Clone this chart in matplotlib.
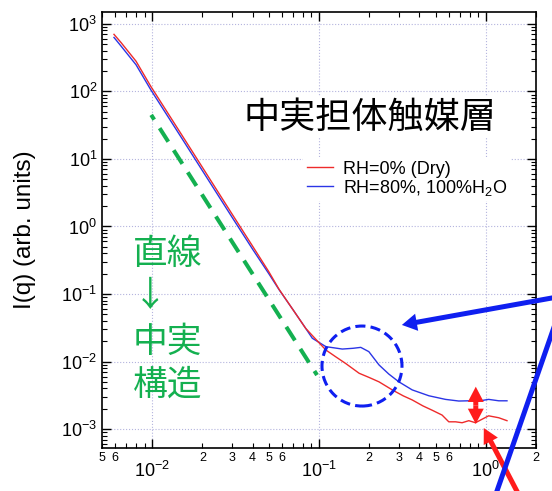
import numpy as np
import matplotlib
matplotlib.use("Agg")
import matplotlib.pyplot as plt
from matplotlib.patches import Circle, FancyArrowPatch
from matplotlib.transforms import ScaledTranslation
from matplotlib.ticker import LogLocator, FuncFormatter, NullFormatter, FixedLocator

plt.rcParams["font.family"] = ["Liberation Sans", "Noto Sans CJK JP", "DejaVu Sans"]
plt.rcParams["mathtext.fontset"] = "custom"
plt.rcParams["mathtext.rm"] = "Liberation Sans"
plt.rcParams["mathtext.it"] = "Liberation Sans:italic"
plt.rcParams["mathtext.bf"] = "Liberation Sans:bold"
plt.rcParams["mathtext.default"] = "regular"

# Scattering profiles I(q)
q_dry = [0.0059, 0.0065, 0.008, 0.0098, 0.015, 0.02, 0.03, 0.04, 0.05, 0.0576,
         0.07, 0.0832, 0.1, 0.11, 0.125, 0.145, 0.174, 0.2, 0.229, 0.275, 0.32,
         0.362, 0.42, 0.477, 0.547, 0.6, 0.659, 0.721, 0.791, 0.868, 0.93, 1.04,
         1.196, 1.34]
I_dry = [700, 530, 280, 119, 22.9, 7.5, 1.55, 0.51, 0.214, 0.1175,
         0.058, 0.031, 0.019, 0.0148, 0.0119, 0.0093, 0.0067, 0.0058, 0.005, 0.0038, 0.0031,
         0.0027, 0.0022, 0.0019, 0.00161, 0.00128, 0.00128, 0.00124, 0.00133, 0.00124, 0.00136, 0.00157,
         0.00147, 0.00133]

q_wet = [0.0059, 0.0065, 0.008, 0.0098, 0.015, 0.02, 0.03, 0.04, 0.05, 0.0576,
         0.07, 0.0832, 0.0912, 0.11, 0.138, 0.16, 0.178, 0.199, 0.229, 0.262,
         0.301, 0.362, 0.456, 0.573, 0.689, 0.791, 0.908, 1.04, 1.196, 1.34]
I_wet = [630, 470, 248, 106, 20.5, 6.7, 1.39, 0.46, 0.2, 0.116,
         0.058, 0.031, 0.0221, 0.0166, 0.0153, 0.0157, 0.0162, 0.014, 0.0089, 0.00653,
         0.00501, 0.0038, 0.00311, 0.00275, 0.0026, 0.00262, 0.0026, 0.00275, 0.00262, 0.00262]

# Straight (power-law) guide line
q_line = [0.00986, 0.0973]
I_line = [44.9, 0.0063]

# Axis ranges and tick positions
x_range = (5e-3, 2.0)
y_range = (5.24e-4, 1.5e3)
x_major = [1e-2, 1e-1, 1e0]
x_minor = [m * 10.0 ** e for e in (-3, -2, -1, 0) for m in range(2, 10)
           if x_range[0] * 0.999 <= m * 10.0 ** e <= x_range[1] * 1.001]
y_major = [1e-3, 1e-2, 1e-1, 1e0, 1e1, 1e2, 1e3]

label_dry = "RH=0% (Dry)"
label_wet = "RH=80%, 100%H$_2$O"
title_text = "中実担体触媒層"
side_lines = ["直線", "↓", "中実", "構造"]

RED = "#ee2b2b"
BLUE = "#2b35e6"
ARROW_BLUE = "#0f1ff0"
ARROW_RED = "#ff1c1c"
GREEN = "#14b050"

fig = plt.figure(figsize=(5.52, 4.91), dpi=100)
ax = fig.add_axes([102 / 552, 1 - 448 / 491, 434 / 552, 436 / 491])

ax.plot(q_line, I_line, color=GREEN, lw=2.9, linestyle=(2.6, (4.0, 2.5)),
        dash_capstyle="butt", zorder=2)
l2, = ax.plot(q_wet, I_wet, color=BLUE, lw=1.0, label=label_wet, zorder=3)
l1, = ax.plot(q_dry, I_dry, color=RED, lw=1.0, label=label_dry, zorder=3)

ax.set_xscale("log")
ax.set_yscale("log")
ax.set_xlim(*x_range)
ax.set_ylim(*y_range)
ax.set_autoscale_on(False)

ax.set_axisbelow(True)
ax.grid(True, which="major", linestyle=":", color="#b4b4de", lw=0.8)

ax.xaxis.set_major_locator(FixedLocator(x_major))
ax.xaxis.set_minor_locator(FixedLocator(x_minor))
ax.yaxis.set_major_locator(FixedLocator(y_major))
ax.yaxis.set_minor_locator(LogLocator(base=10, subs=np.arange(2, 10), numticks=20))
ax.yaxis.set_minor_formatter(NullFormatter())


def minor_x(val, pos):
    mant = int(np.round(val / 10 ** np.floor(np.log10(val) + 1e-9)))
    return str(mant) if mant in (2, 3, 4, 5, 6) else ""


def major_log(val, pos):
    return "$\\mathdefault{10^{%d}}$" % int(np.round(np.log10(val)))


ax.xaxis.set_minor_formatter(FuncFormatter(minor_x))
ax.xaxis.set_major_formatter(FuncFormatter(major_log))
ax.yaxis.set_major_formatter(FuncFormatter(major_log))

ax.tick_params(which="both", direction="in", top=True, right=True, color="black")
ax.tick_params(which="major", length=6.5, width=1.0)
ax.tick_params(which="minor", length=3.6, width=0.8)
ax.tick_params(axis="x", which="major", labelsize=13, pad=9)
ax.tick_params(axis="x", which="minor", labelsize=9, pad=3)
ax.tick_params(axis="y", which="major", labelsize=13, pad=3.5)
for s in ax.spines.values():
    s.set_linewidth(1.2)

ax.set_ylabel("I(q) (arb. units)", fontsize=17.5)
ax.yaxis.set_label_coords(-0.152, 0.5)

leg = ax.legend(handles=[l1, l2], loc="upper left",
                bbox_to_anchor=(303 / 552, 1 - 157 / 491), bbox_transform=fig.transFigure,
                fontsize=13, frameon=True, fancybox=False, framealpha=1,
                facecolor="white", edgecolor="none", borderpad=0.2,
                borderaxespad=0, handlelength=1.45, handletextpad=0.55,
                labelspacing=0.0)
leg.set_zorder(5)

ax.text((369.5 - 102) / 434, (448 - 117.5) / 436, title_text, transform=ax.transAxes,
        fontsize=26, family=["Noto Sans CJK JP"], ha="center", va="center",
        bbox=dict(facecolor="white", edgecolor="none", pad=2), zorder=5)

for txt, yc in zip(side_lines, [254, 297, 342, 385]):
    fig.text(133 / 552, 1 - yc / 491, txt, fontsize=25, color=GREEN,
             family=["Noto Sans CJK JP"], ha="left", va="center")

# Dashed circle around the shoulder
qc, Ic = 0.181, 0.00857
circ = Circle((0, 0), 0.40, transform=fig.dpi_scale_trans + ScaledTranslation(qc, Ic, ax.transData),
              fill=False, ec=ARROW_BLUE, lw=2.2, linestyle=(0, (3.3, 1.7)), zorder=6)
fig.add_artist(circ)


def pixel_offset(xy, off):
    """Data point shifted by (dx, dy) display pixels."""
    disp = ax.transData.transform(xy) + np.asarray(off, dtype=float)
    return tuple(ax.transData.inverted().transform(disp))


def arrow(tail, tip, color, hl, hw, tw):
    p = FancyArrowPatch(tail, tip,
                        arrowstyle=f"simple,head_length={hl},head_width={hw},tail_width={tw}",
                        mutation_scale=1, color=color, lw=0, shrinkA=0, shrinkB=0,
                        clip_on=False, zorder=7)
    ax.add_patch(p)


tip_blue = (0.314, 0.0348)
arrow(pixel_offset(tip_blue, (217, 39)), tip_blue, ARROW_BLUE, 10.8, 12.5, 3.6)
tip_red = (0.973, 0.001035)
arrow(pixel_offset(tip_red, (43, -82)), tip_red, ARROW_RED, 10.8, 11.5, 3.6)

# Double-headed gap marker
q_gap, I_top, I_bot = 0.871, 0.00424, 0.00119
I_mid = np.sqrt(I_top * I_bot)
for end in (I_top, I_bot):
    arrow((q_gap, I_mid), (q_gap, end), ARROW_RED, 11.0, 11.5, 3.6)

# Leader line running off the lower right corner
lead = FancyArrowPatch((490 / 552, -20 / 491), (560 / 552, 181 / 491),
                       transform=fig.transFigure, arrowstyle="-", lw=3.6,
                       color=ARROW_BLUE, shrinkA=0, shrinkB=0, zorder=7)
fig.add_artist(lead)

fig.savefig("out.png", dpi=100)
